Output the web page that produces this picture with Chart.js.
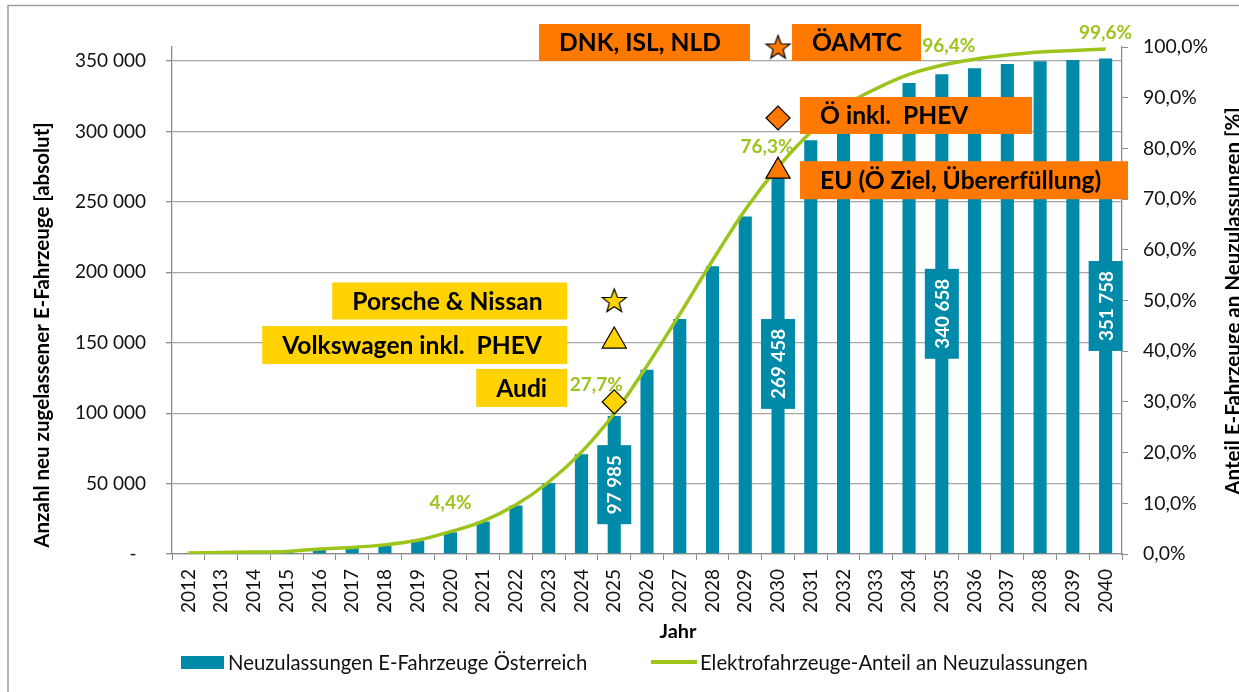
<!DOCTYPE html>
<html>
<head>
<meta charset="utf-8">
<script src="https://cdn.jsdelivr.net/npm/chart.js@4.4.1/dist/chart.umd.min.js"></script>
<style>
  html, body { margin: 0; padding: 0; background: #fff; }
  #wrap { position: relative; width: 1239px; height: 692px; }
</style>
</head>
<body>
<div id="wrap"><canvas id="chart"></canvas></div>
<script>
const years = ['2012', '2013', '2014', '2015', '2016', '2017', '2018', '2019', '2020', '2021',
  '2022', '2023', '2024', '2025', '2026', '2027', '2028', '2029', '2030', '2031',
  '2032', '2033', '2034', '2035', '2036', '2037', '2038', '2039', '2040'];

// Neuzulassungen E-Fahrzeuge (absolut)
const registrations = [300, 600, 900, 1200, 3300, 4500, 6200, 9500, 15400, 23000,
  34400, 50200, 70900, 97985, 130800, 166900, 204300, 239700, 269458, 293800,
  312000, 324000, 334400, 340658, 345000, 347900, 349800, 350800, 351758];

// Anteil an Neuzulassungen (%)
const sharePct = [0.2, 0.3, 0.4, 0.5, 1.0, 1.3, 1.8, 2.7, 4.4, 6.5,
  9.7, 14.2, 20.1, 27.7, 37.1, 47.3, 57.9, 67.9, 76.3, 83.2,
  88.3, 91.8, 94.6, 96.4, 97.6, 98.4, 99.0, 99.3, 99.6];

const countTicks = [0, 50000, 100000, 150000, 200000, 250000, 300000, 350000];
const pctTicks = [0, 10, 20, 30, 40, 50, 60, 70, 80, 90, 100];

const barLabelYears = ['2025', '2030', '2035', '2040'];
const shareLabelYears = ['2020', '2025', '2030', '2035', '2040'];

// Herstellerziele (gelb) und Länder-/EU-Ziele (orange), Anteil in %
const oemYear = '2025';
const oemTargets = [50, 42, 30];
const oemNotes = [['Porsche & Nissan'], ['Volkswagen inkl.  PHEV'], ['Audi']];
const countryYear = '2030';
const countryTargets = [100, 86, 75.5];
const countryNotes = [['DNK, ISL, NLD', 'ÖAMTC'], ['Ö inkl.  PHEV'], ['EU (Ö Ziel, Übererfüllung)']];

// ---- styling / layout ----
const FONT = 'Lato, "Open Sans", sans-serif';
const BAR = '#008AA9';
const GREEN = '#9CC41B';
const ORANGE = '#FF7900';
const YELLOW = '#FFD200';
const GRID = '#A6A6A6';
const AXIS = '#8C8C8C';

// box [dx, dy, w, h] relative to the marker it belongs to
const noteBox = {
  'DNK, ISL, NLD': [-239, -23, 211, 37],
  'ÖAMTC': [14, -23, 129, 37],
  'Ö inkl.  PHEV': [22, -21, 232, 37],
  'EU (Ö Ziel, Übererfüllung)': [22, -10, 328, 38],
  'Porsche & Nissan': [-282, -18, 235, 37],
  'Volkswagen inkl.  PHEV': [-352, -15, 305, 38],
  'Audi': [-138, -33, 91, 38],
};
// label centre offset from the line point
const shareLabelOffset = { '2020': [0, -29], '2025': [-18, -29], '2030': [-11, -20], '2035': [7, -19], '2040': [0, -16] };

function fitSize(text, width, weight) {
  const g = document.createElement('canvas').getContext('2d');
  g.font = `${weight || 'normal'} 100px ${FONT}`;
  return Math.round(1000 * width / g.measureText(text).width) / 10;
}

const tickSize = fitSize('350 000', 71);
const pctSize = fitSize('100,0%', 65);
const yearSize = fitSize('2012', 44);
const legendSize = fitSize('Neuzulassungen E-Fahrzeuge Österreich', 360);
const noteSize = fitSize('Porsche & Nissan', 190, 'bold');
const titleSize = fitSize('Anzahl neu zugelassener E-Fahrzeuge [absolut]', 426, 'bold');
const barLblSize = fitSize('269 458', 70, 'bold');
const shareLblSize = fitSize('27,7%', 53, 'bold');
const jahrSize = fitSize('Jahr', 37, 'bold');

const fmtNum = (v) => String(Math.round(v)).replace(/\B(?=(\d{3})+(?!\d))/g, ' ');
const fmtPct = (v) => v.toFixed(1).replace('.', ',') + '%';

function starImage(fill, R) {
  const s = Math.ceil(R * 2 + 4);
  const c = document.createElement('canvas');
  c.width = c.height = s;
  const g = c.getContext('2d');
  g.translate(s / 2, s / 2 + R * 0.08);
  g.beginPath();
  for (let i = 0; i < 10; i++) {
    const a = -Math.PI / 2 + i * Math.PI / 5;
    const r = i % 2 ? R * 0.42 : R;
    g.lineTo(Math.cos(a) * r, Math.sin(a) * r);
  }
  g.closePath();
  g.fillStyle = fill;
  g.fill();
  g.lineWidth = 1.2;
  g.strokeStyle = '#000';
  g.stroke();
  return c;
}

const framePlugin = {
  id: 'frame',
  beforeDraw(chart) {
    const ctx = chart.ctx;
    ctx.save();
    ctx.fillStyle = '#fff';
    ctx.fillRect(0, 0, chart.width, chart.height);
    ctx.strokeStyle = '#A0A0A0';
    ctx.lineWidth = 1.5;
    ctx.beginPath();
    ctx.moveTo(1245, 5.5);
    ctx.lineTo(8, 5.5);
    ctx.lineTo(8, 700);
    ctx.stroke();
    ctx.restore();
  },
};

const labelsPlugin = {
  id: 'labels',
  afterDatasetsDraw(chart) {
    const ctx = chart.ctx;
    ctx.save();

    // value boxes inside the bars
    const bars = chart.getDatasetMeta(0);
    ctx.font = `bold ${barLblSize}px ${FONT}`;
    ctx.textAlign = 'center';
    ctx.textBaseline = 'middle';
    barLabelYears.forEach((y) => {
      const i = years.indexOf(y);
      const el = bars.data[i];
      const txt = fmtNum(registrations[i]);
      const w = ctx.measureText(txt).width + 20;
      ctx.save();
      ctx.translate(el.x, (el.y + el.base) / 2);
      ctx.rotate(-Math.PI / 2);
      ctx.fillStyle = BAR;
      ctx.fillRect(-w / 2, -17, w, 34);
      ctx.fillStyle = '#fff';
      ctx.fillText(txt, 0, 1);
      ctx.restore();
    });

    // share labels on the line
    const line = chart.getDatasetMeta(1);
    ctx.font = `bold ${shareLblSize}px ${FONT}`;
    ctx.fillStyle = GREEN;
    shareLabelYears.forEach((y) => {
      const i = years.indexOf(y);
      const el = line.data[i];
      const [dx, dy] = shareLabelOffset[y];
      ctx.fillText(fmtPct(sharePct[i]), el.x + dx, el.y + dy);
    });

    // target boxes
    ctx.font = `bold ${noteSize}px ${FONT}`;
    ctx.textAlign = 'left';
    [[2, oemNotes, YELLOW], [3, countryNotes, ORANGE]].forEach(([di, notes, col]) => {
      const meta = chart.getDatasetMeta(di);
      notes.forEach((list, k) => {
        const el = meta.data[k];
        list.forEach((txt) => {
          const [dx, dy, w, h] = noteBox[txt];
          const x = el.x + dx, y = el.y + dy;
          ctx.fillStyle = col;
          ctx.fillRect(x, y, w, h);
          ctx.fillStyle = '#000';
          ctx.fillText(txt, x + 20, y + h / 2 + 1);
        });
      });
    });
    ctx.restore();
  },
  afterDraw(chart) {
    const ctx = chart.ctx;
    ctx.save();
    ctx.fillStyle = '#000';
    ctx.textAlign = 'center';
    ctx.textBaseline = 'middle';
    ctx.font = `bold ${titleSize}px ${FONT}`;
    [['Anzahl neu zugelassener E-Fahrzeuge [absolut]', 42, 335],
     ['Anteil E-Fahrzeuge an Neuzulassungen [%]', 1233, 301]].forEach(([t, x, y]) => {
      ctx.save();
      ctx.translate(x, y);
      ctx.rotate(-Math.PI / 2);
      ctx.fillText(t, 0, 0);
      ctx.restore();
    });
    ctx.font = `bold ${jahrSize}px ${FONT}`;
    ctx.fillText('Jahr', 678, 632);

    // legend
    const ds = chart.data.datasets;
    ctx.font = `${legendSize}px ${FONT}`;
    ctx.textAlign = 'left';
    ctx.fillStyle = ds[0].backgroundColor;
    ctx.fillRect(181, 656, 43, 13);
    ctx.fillStyle = '#111';
    ctx.fillText(ds[0].label, 228, 663);
    ctx.strokeStyle = ds[1].borderColor;
    ctx.lineWidth = 4;
    ctx.beginPath();
    ctx.moveTo(651, 662);
    ctx.lineTo(697, 662);
    ctx.stroke();
    ctx.fillText(ds[1].label, 700, 663);
    ctx.restore();
  },
};

new Chart(document.getElementById('chart'), {
  type: 'bar',
  data: {
    labels: years,
    datasets: [
      {
        label: 'Neuzulassungen E-Fahrzeuge Österreich',
        data: registrations,
        backgroundColor: BAR,
        yAxisID: 'y',
        barPercentage: 0.4,
        categoryPercentage: 1,
        order: 2,
      },
      {
        type: 'line',
        label: 'Elektrofahrzeuge-Anteil an Neuzulassungen',
        data: sharePct,
        yAxisID: 'y1',
        borderColor: GREEN,
        borderWidth: 3.5,
        pointRadius: 0,
        cubicInterpolationMode: 'monotone',
        order: 1,
      },
      {
        type: 'line',
        label: 'Hersteller',
        data: oemTargets.map((v) => ({ x: oemYear, y: v })),
        yAxisID: 'y1',
        showLine: false,
        clip: false,
        pointStyle: [starImage(YELLOW, 12.5), 'triangle', 'rectRot'],
        pointRadius: [12, 14, 12],
        pointBackgroundColor: YELLOW,
        pointBorderColor: '#000',
        pointBorderWidth: 1.2,
        order: 0,
      },
      {
        type: 'line',
        label: 'Länder',
        data: countryTargets.map((v) => ({ x: countryYear, y: v })),
        yAxisID: 'y1',
        showLine: false,
        clip: false,
        pointStyle: [starImage(ORANGE, 12.5), 'rectRot', 'triangle'],
        pointRadius: [12, 12, 14],
        pointBackgroundColor: ORANGE,
        pointBorderColor: '#000',
        pointBorderWidth: 1.2,
        order: 0,
      },
    ],
  },
  options: {
    responsive: true,
    maintainAspectRatio: false,
    animation: false,
    events: [],
    layout: { padding: { top: 47, left: 0, right: 0, bottom: 0 } },
    plugins: { legend: { display: false }, tooltip: { enabled: false } },
    scales: {
      x: {
        grid: { drawOnChartArea: false, drawTicks: true, tickLength: 6, tickColor: AXIS, offset: true },
        border: { display: true, color: AXIS, width: 1.3 },
        ticks: {
          autoSkip: false, maxRotation: 90, minRotation: 90, padding: 9,
          color: '#111', font: { family: FONT, size: yearSize },
        },
        afterFit(scale) { scale.height = 692 - 554; },
      },
      y: {
        position: 'left',
        min: 0,
        max: 360000,
        grid: { color: GRID, lineWidth: 1.3, tickLength: 6, tickColor: AXIS },
        border: { display: true, color: AXIS, width: 1.3 },
        ticks: {
          autoSkip: false, padding: 20, color: '#111',
          font: { family: FONT, size: tickSize },
          callback: (v) => (v === 0 ? '-\u2002' : fmtNum(v)),
        },
        afterBuildTicks(scale) { scale.ticks = countTicks.map((v) => ({ value: v })); },
        afterFit(scale) { scale.width = 172; },
      },
      y1: {
        position: 'right',
        min: 0,
        max: 100,
        grid: { drawOnChartArea: false, tickLength: 6, tickColor: AXIS },
        border: { display: true, color: AXIS, width: 1.3 },
        ticks: {
          autoSkip: false, padding: 15, color: '#111',
          font: { family: FONT, size: pctSize },
          callback: (v) => fmtPct(v),
        },
        afterBuildTicks(scale) { scale.ticks = pctTicks.map((v) => ({ value: v })); },
        afterFit(scale) { scale.width = 1239 - 1122; },
      },
    },
  },
  plugins: [framePlugin, labelsPlugin],
});
</script>
</body>
</html>
